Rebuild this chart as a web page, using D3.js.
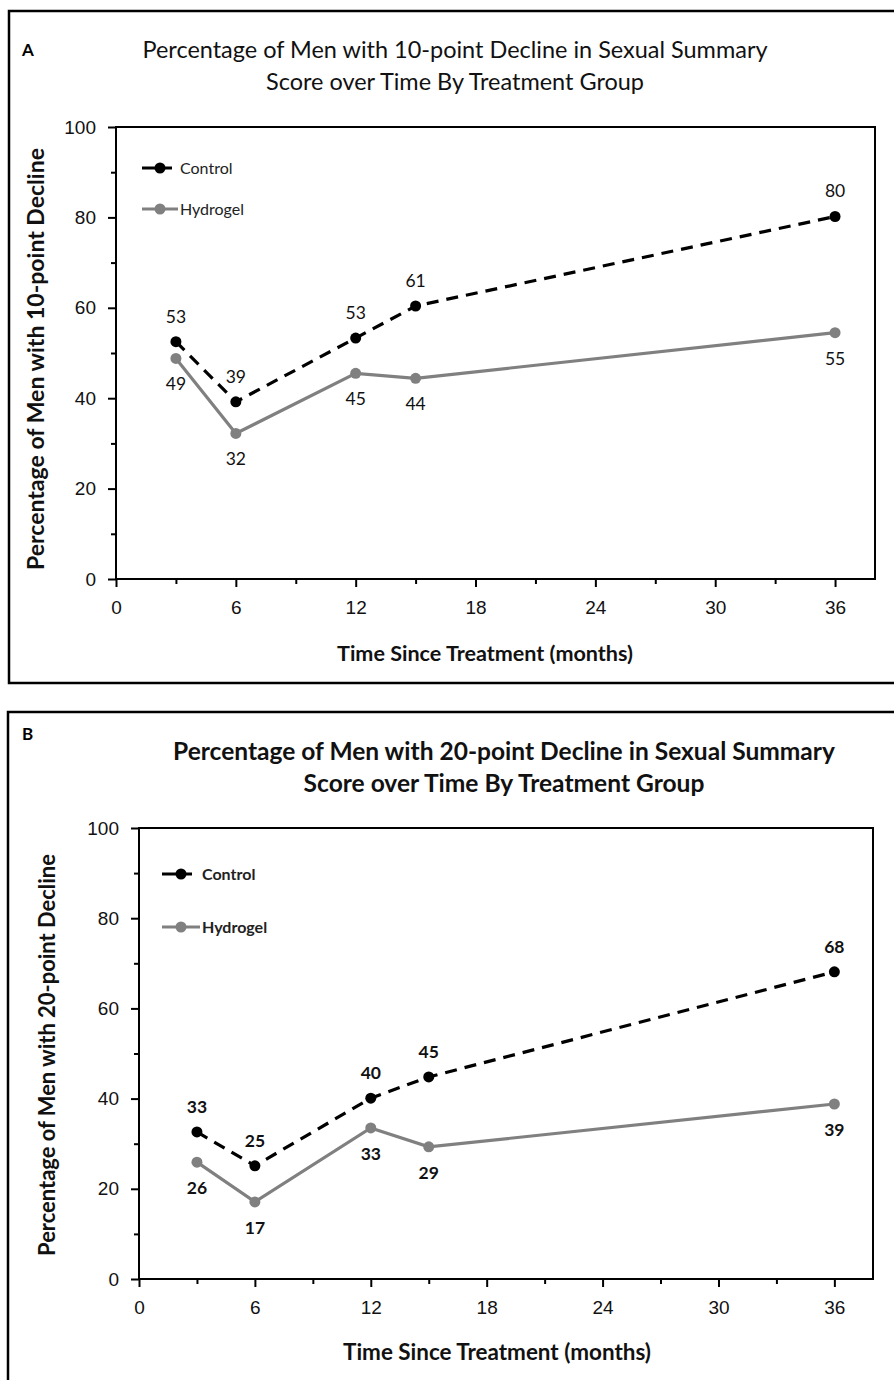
<!DOCTYPE html>
<html>
<head>
<meta charset="utf-8">
<script src="https://cdn.jsdelivr.net/npm/d3@7"></script>
<style>
  body { margin: 0; background: #fff; }
  svg { display: block; font-family: Lato, 'Open Sans', sans-serif; }
</style>
</head>
<body>
<svg id="chart" width="894" height="1380"></svg>
<script>
// data
const months = [3, 6, 12, 15, 36];
const xTicks = [0, 6, 12, 18, 24, 30, 36];
const yTicks = [0, 20, 40, 60, 80, 100];
const seriesNames = ['Control', 'Hydrogel'];

const controlA = [52.5, 39.2, 53.3, 60.4, 80.2];
const hydrogelA = [48.8, 32.2, 45.5, 44.4, 54.5];
const controlALabels = ['53', '39', '53', '61', '80'];
const hydrogelALabels = ['49', '32', '45', '44', '55'];

const controlB = [32.6, 25.1, 40.1, 44.8, 68.1];
const hydrogelB = [25.9, 17.1, 33.5, 29.3, 38.8];
const controlBLabels = ['33', '25', '40', '45', '68'];
const hydrogelBLabels = ['26', '17', '33', '29', '39'];

const svg = d3.select('#chart');

function fitText(sel, width) {
  // shrink/grow font so the line spans roughly the same width as the original
  const node = sel.node();
  const size = parseFloat(sel.attr('font-size'));
  const w = node.getComputedTextLength();
  sel.attr('font-size', (size * width / w).toFixed(2));
}

function drawPanel(p) {
  const g = svg.append('g');

  // panel frame
  g.append('rect')
    .attr('x', p.frame[0]).attr('y', p.frame[1])
    .attr('width', p.frame[2]).attr('height', p.frame[3])
    .attr('fill', 'none').attr('stroke', '#000').attr('stroke-width', 2.5);

  g.append('text')
    .attr('x', 22).attr('y', p.letterY)
    .attr('font-size', 17).attr('font-weight', 'bold')
    .text(p.letter);

  p.title.forEach((t, i) => {
    const tt = g.append('text')
      .attr('x', p.titleX).attr('y', p.titleY[i])
      .attr('text-anchor', 'middle')
      .attr('font-size', 22)
      .attr('font-weight', p.bold ? 'bold' : 'normal')
      .attr('fill', '#111')
      .text(t);
    fitText(tt, p.titleW[i]);
  });

  const x = d3.scaleLinear().domain([0, 38]).range([p.left, p.right]);
  const y = d3.scaleLinear().domain([0, 100]).range([p.bottom, p.top]);

  // plot box
  g.append('rect')
    .attr('x', p.left).attr('y', p.top)
    .attr('width', p.right - p.left).attr('height', p.bottom - p.top)
    .attr('fill', 'none').attr('stroke', '#000').attr('stroke-width', 2);

  // minor ticks
  g.append('g')
    .attr('transform', `translate(0,${p.bottom})`)
    .call(d3.axisBottom(x).tickValues(d3.range(3, 37, 6)).tickSize(5).tickFormat(''))
    .call(a => a.select('.domain').remove())
    .call(a => a.selectAll('line').attr('stroke-width', 2));
  g.append('g')
    .attr('transform', `translate(${p.left},0)`)
    .call(d3.axisLeft(y).tickValues(d3.range(10, 100, 20)).tickSize(5).tickFormat(''))
    .call(a => a.select('.domain').remove())
    .call(a => a.selectAll('line').attr('stroke-width', 2));

  // major ticks
  const xa = g.append('g')
    .attr('transform', `translate(0,${p.bottom})`)
    .call(d3.axisBottom(x).tickValues(xTicks).tickSize(8).tickPadding(14))
    .call(a => a.select('.domain').remove());
  xa.selectAll('line').attr('stroke-width', 2);
  xa.selectAll('text').attr('font-size', 19).attr('font-family', 'inherit').attr('fill', '#111');

  const ya = g.append('g')
    .attr('transform', `translate(${p.left},0)`)
    .call(d3.axisLeft(y).tickValues(yTicks).tickSize(8).tickPadding(p.yPad))
    .call(a => a.select('.domain').remove());
  ya.selectAll('line').attr('stroke-width', 2);
  ya.selectAll('text').attr('font-size', 19).attr('font-family', 'inherit').attr('fill', '#111');

  // axis titles
  const xl = g.append('text')
    .attr('x', p.xLabel[0]).attr('y', p.xLabel[1])
    .attr('text-anchor', 'middle').attr('font-size', 19).attr('font-weight', 'bold')
    .attr('fill', '#111')
    .text('Time Since Treatment (months)');
  fitText(xl, p.xLabel[2]);

  const yl = g.append('text')
    .attr('transform', `translate(${p.yLabel[0]},${p.yLabel[1]}) rotate(-90)`)
    .attr('text-anchor', 'middle').attr('font-size', 19).attr('font-weight', 'bold')
    .attr('fill', '#111')
    .text(p.yTitle);
  fitText(yl, p.yLabel[2]);

  const series = [
    { name: seriesNames[0], vals: p.control, labels: p.controlLabels, color: '#000', dash: '12,8', dy: -19 },
    { name: seriesNames[1], vals: p.hydrogel, labels: p.hydrogelLabels, color: '#808080', dash: null, dy: 32 }
  ];

  const line = d3.line().x(d => x(d[0])).y(d => y(d[1]));

  series.slice().reverse().forEach(s => {
    const pts = months.map((m, i) => [m, s.vals[i]]);
    g.append('path')
      .datum(pts)
      .attr('d', line)
      .attr('fill', 'none')
      .attr('stroke', s.color)
      .attr('stroke-width', 3.2)
      .attr('stroke-dasharray', s.dash);
    g.selectAll(null).data(pts).join('circle')
      .attr('cx', d => x(d[0])).attr('cy', d => y(d[1]))
      .attr('r', 5.5).attr('fill', s.color);
    g.selectAll(null).data(pts).join('text')
      .attr('x', d => x(d[0])).attr('y', d => y(d[1]) + s.dy)
      .attr('text-anchor', 'middle')
      .attr('font-size', 17.5)
      .attr('font-weight', p.bold ? 'bold' : 'normal')
      .attr('fill', '#111')
      .text((d, i) => s.labels[i]);
  });

  // legend
  series.forEach((s, i) => {
    const ly = p.legend[1] + i * p.legend[3];
    const lx = p.legend[0];
    g.append('line')
      .attr('x1', lx).attr('x2', lx + p.legend[2])
      .attr('y1', ly).attr('y2', ly)
      .attr('stroke', s.color).attr('stroke-width', 3.2)
      .attr('stroke-dasharray', s.dash ? '18,4,8' : null);
    g.append('circle')
      .attr('cx', lx + p.legend[2] / 2).attr('cy', ly)
      .attr('r', 5.5).attr('fill', s.color);
    g.append('text')
      .attr('x', lx + p.legend[2] + 2).attr('y', ly + 5.5)
      .attr('font-size', 16)
      .attr('font-weight', p.bold ? 'bold' : 'normal')
      .attr('fill', '#222')
      .text(s.name);
  });
}

drawPanel({
  letter: 'A', letterY: 56, bold: false,
  frame: [9, 11, 900, 672],
  title: ['Percentage of Men with 10-point Decline in Sexual Summary',
          'Score over Time By Treatment Group'],
  titleX: 455, titleY: [58, 90], titleW: [625, 378],
  left: 116, right: 875, top: 127, bottom: 579, yPad: 12,
  xLabel: [485, 661, 296], yLabel: [44, 359, 422],
  yTitle: 'Percentage of Men with 10-point Decline',
  control: controlA, hydrogel: hydrogelA,
  controlLabels: controlALabels, hydrogelLabels: hydrogelALabels,
  legend: [142, 168, 36, 41]
});

drawPanel({
  letter: 'B', letterY: 740, bold: true,
  frame: [8, 712, 900, 700],
  title: ['Percentage of Men with 20-point Decline in Sexual Summary',
          'Score over Time By Treatment Group'],
  titleX: 504, titleY: [760, 792], titleW: [662, 401],
  left: 139, right: 873, top: 828, bottom: 1279, yPad: 12,
  xLabel: [497, 1360, 308], yLabel: [55, 1055, 402],
  yTitle: 'Percentage of Men with 20-point Decline',
  control: controlB, hydrogel: hydrogelB,
  controlLabels: controlBLabels, hydrogelLabels: hydrogelBLabels,
  legend: [162, 874, 38, 53]
});
</script>
</body>
</html>
